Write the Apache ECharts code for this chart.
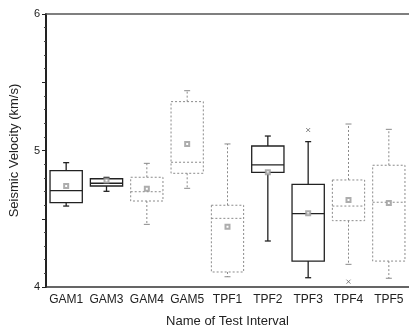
<!DOCTYPE html>
<html>
<head>
<meta charset="utf-8">
<script src="https://cdn.jsdelivr.net/npm/echarts@6/dist/echarts.min.js"></script>
<style>
  html, body { margin: 0; padding: 0; background: #fff; }
  #chart { width: 409px; height: 333px; }
</style>
</head>
<body>
<div id="chart"></div>
<script>
// categories and box stats
const categories = ["GAM1", "GAM3", "GAM4", "GAM5", "TPF1", "TPF2", "TPF3", "TPF4", "TPF5"];
const whiskerLow = [4.593, 4.701, 4.459, 4.723, 4.075, 4.337, 4.068, 4.166, 4.064];
const q1Values = [4.618, 4.740, 4.630, 4.833, 4.110, 4.840, 4.190, 4.486, 4.190];
const medians = [4.706, 4.760, 4.698, 4.914, 4.503, 4.894, 4.537, 4.593, 4.621];
const q3Values = [4.852, 4.793, 4.804, 5.358, 4.599, 5.033, 4.752, 4.784, 4.892];
const whiskerHigh = [4.911, 4.803, 4.906, 5.438, 5.048, 5.106, 5.065, 5.194, 5.155];
const means = [4.74, 4.78, 4.72, 5.048, 4.442, 4.84, 4.54, 4.637, 4.615];
// outliers as [category index, value]
const outliers = [[6, 5.150], [7, 4.039]];
// darker solid boxes vs. faint dotted ones in the scan
const solidBox = [true, true, false, false, false, true, true, false, false];
const yTicks = [4, 4.5, 5, 5.5, 6];

const chart = echarts.init(document.getElementById("chart"));

const boxData = categories.map((c, i) => [i, whiskerLow[i], q1Values[i], medians[i], q3Values[i], whiskerHigh[i]]);

const renderBox = (params, api) => {
  const idx = api.value(0);
  const x = api.coord([idx, 0])[0];
  const w = api.size([1, 0])[0] * 0.8;
  const yLow = api.coord([idx, api.value(1)])[1];
  const yQ1 = api.coord([idx, api.value(2)])[1];
  const yMed = api.coord([idx, api.value(3)])[1];
  const yQ3 = api.coord([idx, api.value(4)])[1];
  const yHigh = api.coord([idx, api.value(5)])[1];
  const solid = solidBox[idx];
  const lineStyle = {
    stroke: solid ? "#222" : "#8a8a8a",
    lineWidth: solid ? 1.3 : 1,
    lineDash: solid ? null : [2, 2],
    fill: null,
  };
  const cap = 3;
  return {
    type: "group",
    children: [
      { type: "rect", shape: { x: x - w / 2, y: yQ3, width: w, height: yQ1 - yQ3 }, style: Object.assign({}, lineStyle, { fill: "#fff" }) },
      { type: "line", shape: { x1: x - w / 2, y1: yMed, x2: x + w / 2, y2: yMed }, style: lineStyle },
      { type: "line", shape: { x1: x, y1: yQ3, x2: x, y2: yHigh }, style: lineStyle },
      { type: "line", shape: { x1: x, y1: yQ1, x2: x, y2: yLow }, style: lineStyle },
      { type: "line", shape: { x1: x - cap, y1: yHigh, x2: x + cap, y2: yHigh }, style: Object.assign({}, lineStyle, { lineDash: null }) },
      { type: "line", shape: { x1: x - cap, y1: yLow, x2: x + cap, y2: yLow }, style: Object.assign({}, lineStyle, { lineDash: null }) },
    ],
  };
};

const option = {
  animation: false,
  backgroundColor: "#fff",
  grid: { left: 43, right: -5, top: 14, bottom: 46 },
  xAxis: [
    {
      type: "category",
      data: categories,
      position: "bottom",
      axisLine: { lineStyle: { color: "#333", width: 1.5 } },
      axisTick: { alignWithLabel: true, interval: 0, length: 4, lineStyle: { color: "#333" } },
      axisLabel: { interval: 0, color: "#222", fontSize: 12, fontFamily: "Liberation Sans", margin: 7 },
      name: "Name of Test Interval",
      nameLocation: "middle",
      nameGap: 28,
      nameTextStyle: { color: "#222", fontSize: 13, fontFamily: "Liberation Sans" },
    },
    {
      type: "category",
      data: categories,
      position: "top",
      axisLine: { lineStyle: { color: "#555", width: 1.5 } },
      axisTick: { show: false },
      axisLabel: { show: false },
    }
  ],
  yAxis: {
    type: "value",
    min: yTicks[0],
    max: yTicks[yTicks.length - 1],
    interval: 0.5,
    splitLine: { show: false },
    axisLine: { show: true, lineStyle: { color: "#222", width: 2 } },
    axisTick: { show: true, length: 4, lineStyle: { color: "#222" } },
    minorTick: { show: true, splitNumber: 5, length: 2, lineStyle: { color: "#444" } },
    axisLabel: {
      color: "#222",
      fontSize: 11,
      fontFamily: "Liberation Sans",
      margin: 6,
      formatter: (v) => (Number.isInteger(v) ? String(v) : ""),
    },
    name: "Seismic Velocity (km/s)",
    nameLocation: "middle",
    nameGap: 25,
    nameTextStyle: { color: "#222", fontSize: 13, fontFamily: "Liberation Sans" },
  },
  series: [
    {
      type: "custom",
      renderItem: renderBox,
      data: boxData,
      encode: { x: 0, y: [1, 2, 3, 4, 5] },
      z: 2,
    },
    {
      type: "scatter",
      data: means.map((m, i) => [i, m]),
      symbol: "emptyRect",
      symbolSize: 4,
      itemStyle: { color: "#999", borderColor: "#999" },
      z: 3,
    },
    {
      type: "scatter",
      data: outliers,
      symbol: "path://M0,0L10,10M10,0L0,10",
      symbolSize: 4,
      itemStyle: { color: "none", borderColor: "#666", borderWidth: 1 },
      z: 3,
    }
  ],
};

chart.setOption(option);
</script>
</body>
</html>
